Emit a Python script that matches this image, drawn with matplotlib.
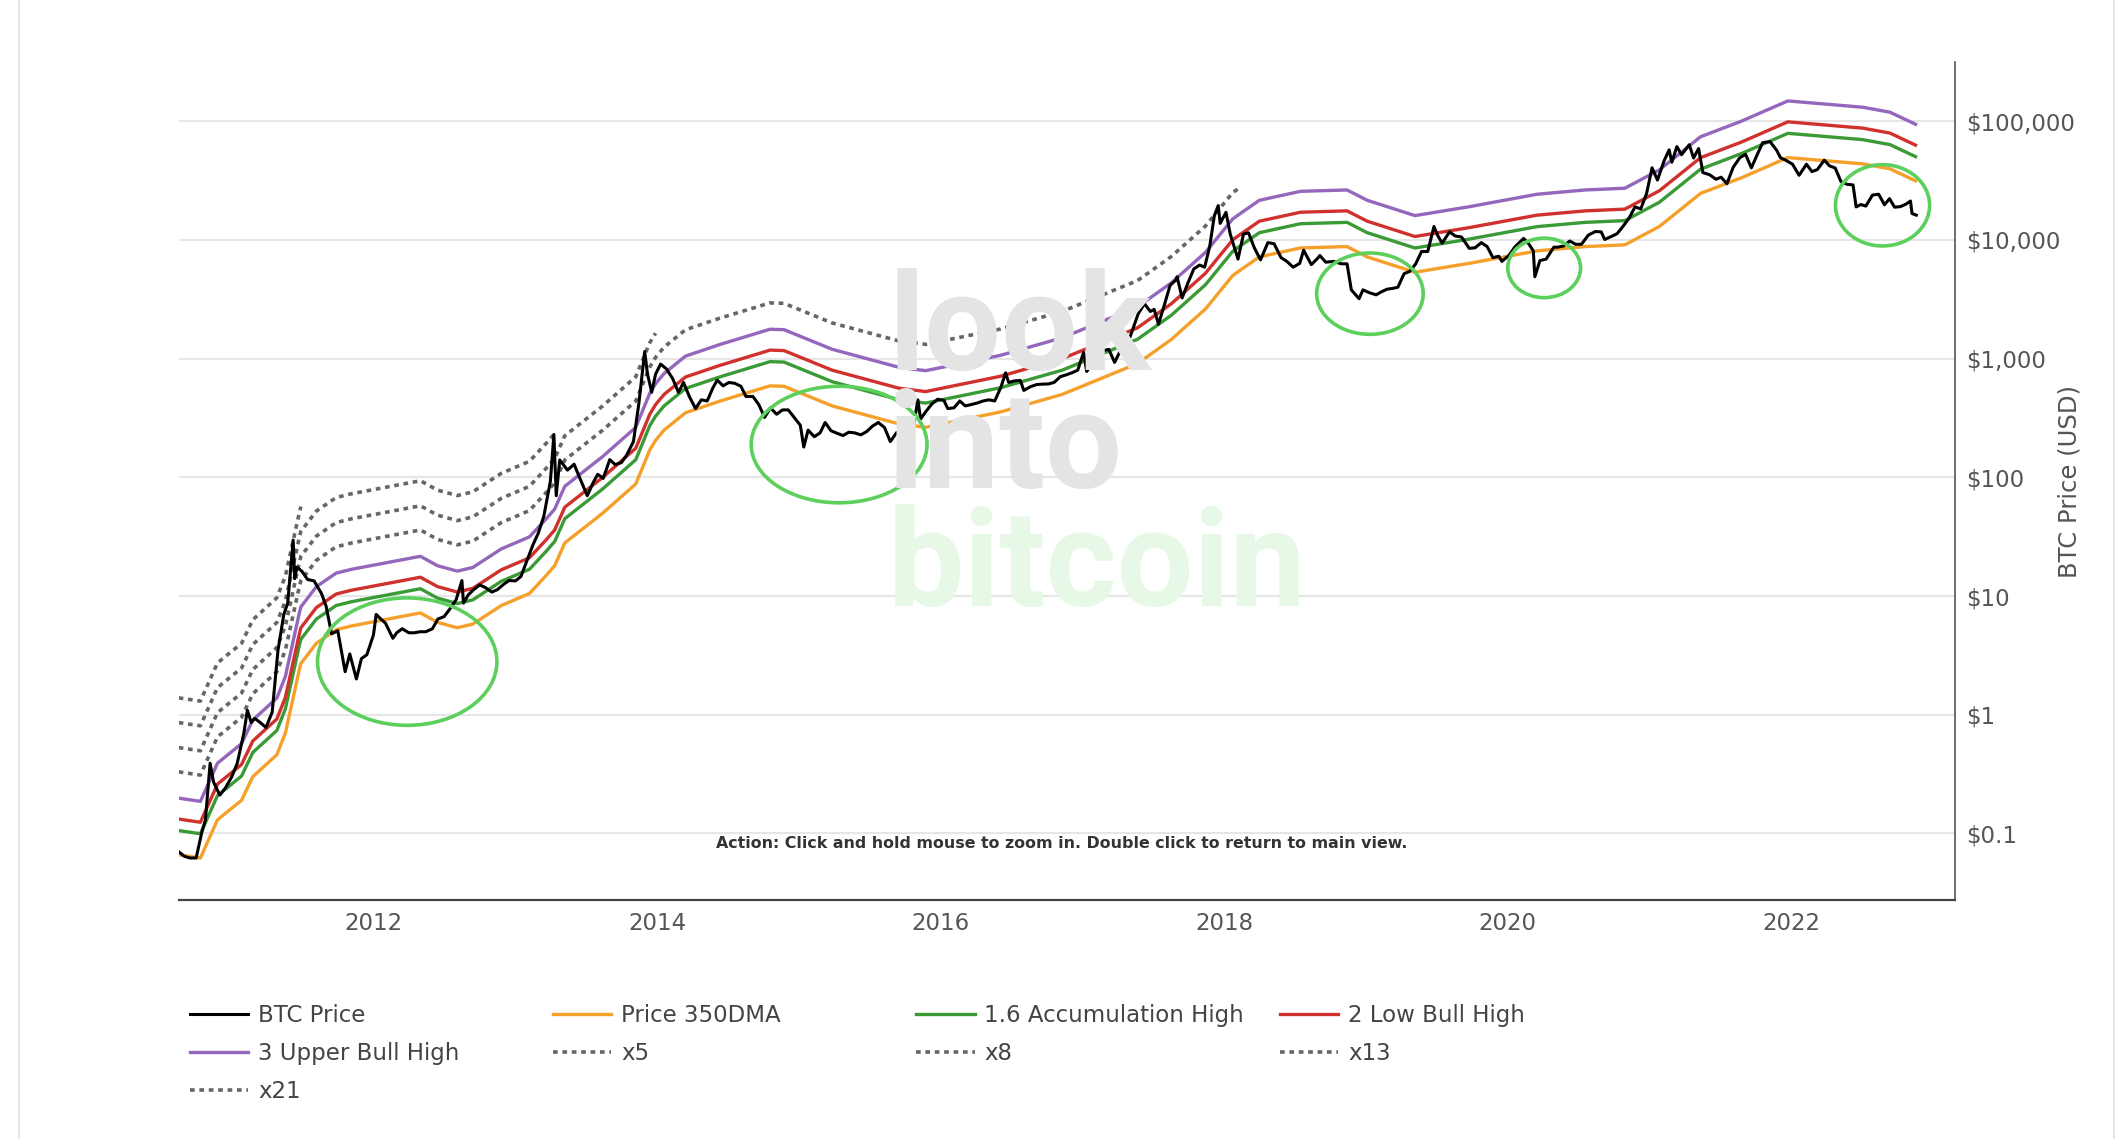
import matplotlib
matplotlib.use("Agg")
import matplotlib.pyplot as plt
import matplotlib.dates as mdates
from matplotlib.patches import Ellipse
from matplotlib.lines import Line2D
import pandas as pd

# BTC price (approx. readings, semi-monthly plus swing highs/lows)
btc_dates = [
    "2010-08-17", "2010-09-01", "2010-09-15", "2010-10-01", "2010-10-15", "2010-10-25", "2010-11-06", "2010-11-15",
    "2010-12-01", "2010-12-15", "2011-01-01", "2011-01-15", "2011-02-01", "2011-02-10", "2011-02-20", "2011-03-01",
    "2011-03-15", "2011-03-30", "2011-04-15", "2011-04-30", "2011-05-15", "2011-05-25", "2011-06-08", "2011-06-12",
    "2011-06-18", "2011-07-01", "2011-07-15", "2011-08-01", "2011-08-20", "2011-09-01", "2011-09-15", "2011-10-01",
    "2011-10-20", "2011-11-01", "2011-11-18", "2011-12-01", "2011-12-15", "2012-01-01", "2012-01-08", "2012-01-20",
    "2012-02-01", "2012-02-20", "2012-03-01", "2012-03-15", "2012-04-01", "2012-04-15", "2012-05-01", "2012-05-15",
    "2012-06-01", "2012-06-15", "2012-07-01", "2012-07-15", "2012-08-01", "2012-08-16", "2012-08-20", "2012-09-01",
    "2012-09-15", "2012-10-01", "2012-10-15", "2012-11-01", "2012-11-15", "2012-12-01", "2012-12-15", "2013-01-01",
    "2013-01-15", "2013-02-01", "2013-02-15", "2013-03-01", "2013-03-15", "2013-04-01", "2013-04-10", "2013-04-16",
    "2013-04-25", "2013-05-15", "2013-06-01", "2013-06-15", "2013-07-05", "2013-07-20", "2013-08-01", "2013-08-15",
    "2013-09-01", "2013-09-15", "2013-10-01", "2013-10-15", "2013-11-01", "2013-11-15", "2013-11-30", "2013-12-07",
    "2013-12-18", "2013-12-28", "2014-01-10", "2014-01-25", "2014-02-10", "2014-02-25", "2014-03-10", "2014-03-25",
    "2014-04-10", "2014-04-25", "2014-05-10", "2014-05-25", "2014-06-05", "2014-06-20", "2014-07-05", "2014-07-20",
    "2014-08-05", "2014-08-18", "2014-09-05", "2014-09-20", "2014-10-05", "2014-10-20", "2014-11-05", "2014-11-20",
    "2014-12-05", "2014-12-20", "2015-01-05", "2015-01-14", "2015-01-25", "2015-02-10", "2015-02-25", "2015-03-10",
    "2015-03-25", "2015-04-10", "2015-04-25", "2015-05-10", "2015-05-25", "2015-06-10", "2015-06-25", "2015-07-10",
    "2015-07-25", "2015-08-10", "2015-08-25", "2015-09-10", "2015-09-25", "2015-10-10", "2015-10-25", "2015-11-04",
    "2015-11-11", "2015-11-25", "2015-12-10", "2015-12-25", "2016-01-10", "2016-01-20", "2016-02-05", "2016-02-20",
    "2016-03-05", "2016-03-20", "2016-04-05", "2016-04-20", "2016-05-05", "2016-05-20", "2016-06-05", "2016-06-17",
    "2016-06-25", "2016-07-10", "2016-07-25", "2016-08-03", "2016-08-20", "2016-09-05", "2016-09-20", "2016-10-05",
    "2016-10-20", "2016-11-05", "2016-11-20", "2016-12-05", "2016-12-20", "2017-01-04", "2017-01-12", "2017-01-25",
    "2017-02-10", "2017-02-25", "2017-03-10", "2017-03-25", "2017-04-10", "2017-04-25", "2017-05-10", "2017-05-25",
    "2017-06-10", "2017-06-25", "2017-07-05", "2017-07-16", "2017-07-30", "2017-08-15", "2017-08-30", "2017-09-02",
    "2017-09-15", "2017-09-30", "2017-10-15", "2017-10-30", "2017-11-12", "2017-11-25", "2017-12-07", "2017-12-17",
    "2017-12-22", "2018-01-06", "2018-01-17", "2018-02-06", "2018-02-20", "2018-03-05", "2018-03-20", "2018-04-05",
    "2018-04-24", "2018-05-10", "2018-05-28", "2018-06-12", "2018-06-28", "2018-07-15", "2018-07-25", "2018-08-14",
    "2018-08-30", "2018-09-05", "2018-09-20", "2018-10-10", "2018-10-30", "2018-11-14", "2018-11-25", "2018-12-15",
    "2018-12-25", "2019-01-10", "2019-01-28", "2019-02-10", "2019-02-25", "2019-03-10", "2019-03-25", "2019-04-10",
    "2019-04-25", "2019-05-10", "2019-05-25", "2019-06-10", "2019-06-26", "2019-07-05", "2019-07-17", "2019-08-05",
    "2019-08-20", "2019-09-05", "2019-09-25", "2019-10-10", "2019-10-26", "2019-11-10", "2019-11-25", "2019-12-10",
    "2019-12-18", "2020-01-05", "2020-01-20", "2020-02-12", "2020-02-25", "2020-03-08", "2020-03-12", "2020-03-25",
    "2020-04-10", "2020-04-30", "2020-05-10", "2020-05-25", "2020-06-10", "2020-06-25", "2020-07-10", "2020-07-28",
    "2020-08-15", "2020-08-30", "2020-09-08", "2020-09-25", "2020-10-10", "2020-10-25", "2020-11-10", "2020-11-25",
    "2020-12-10", "2020-12-25", "2021-01-08", "2021-01-22", "2021-02-08", "2021-02-21", "2021-02-28", "2021-03-13",
    "2021-03-25", "2021-04-14", "2021-04-25", "2021-05-08", "2021-05-19", "2021-06-05", "2021-06-22", "2021-07-05",
    "2021-07-20", "2021-08-05", "2021-08-22", "2021-09-06", "2021-09-21", "2021-10-05", "2021-10-20", "2021-11-08",
    "2021-11-25", "2021-12-05", "2021-12-20", "2022-01-05", "2022-01-22", "2022-02-10", "2022-02-24", "2022-03-10",
    "2022-03-28", "2022-04-10", "2022-04-25", "2022-05-10", "2022-05-25", "2022-06-10", "2022-06-18", "2022-06-30",
    "2022-07-13", "2022-07-30", "2022-08-15", "2022-08-30", "2022-09-12", "2022-09-25", "2022-10-10", "2022-10-25",
    "2022-11-05", "2022-11-09", "2022-11-20",
]
btc_price = [
    0.07, 0.064, 0.062, 0.062, 0.10, 0.13, 0.39, 0.27,
    0.21, 0.24, 0.30, 0.39, 0.70, 1.09, 0.86, 0.93,
    0.86, 0.78, 1.05, 3.5, 7.0, 8.7, 29.6, 14,
    17.5, 16.1, 13.8, 13.4, 10.5, 8.2, 4.8, 5.1,
    2.3, 3.25, 2.0, 2.97, 3.2, 4.7, 7.0, 6.4,
    5.9, 4.4, 4.9, 5.3, 4.9, 4.9, 5.0, 5.0,
    5.3, 6.4, 6.7, 7.7, 9.3, 13.5, 8.7, 10.2,
    11.3, 12.4, 11.8, 10.8, 11.3, 12.5, 13.5, 13.4,
    14.6, 20.4, 27, 34, 47, 93, 230, 70,
    140, 115, 129, 100, 70, 90, 106, 98,
    141, 128, 133, 155, 200, 420, 1150, 750,
    520, 740, 900, 820, 680, 520, 630, 480,
    380, 450, 440, 570, 660, 590, 630, 620,
    585, 480, 480, 410, 320, 385, 340, 370,
    370, 320, 275, 180, 250, 220, 237, 290,
    247, 235, 225, 240, 237, 228, 243, 270,
    290, 263, 200, 238, 235, 245, 285, 450,
    310, 360, 415, 455, 445, 380, 385, 440,
    400, 410, 423, 440, 450, 440, 575, 760,
    630, 650, 655, 540, 580, 605, 610, 612,
    630, 705, 730, 760, 800, 1130, 780, 890,
    990, 1170, 1200, 930, 1190, 1270, 1740, 2400,
    2900, 2500, 2600, 1950, 2750, 4150, 4600, 4900,
    3250, 4350, 5700, 6150, 5900, 8800, 16000, 19500,
    13800, 17100, 11200, 6900, 11200, 11500, 8600, 6800,
    9500, 9300, 7100, 6600, 5900, 6350, 8200, 6200,
    7000, 7400, 6500, 6600, 6300, 6300, 3800, 3200,
    3800, 3600, 3450, 3650, 3850, 3900, 4000, 5200,
    5450, 6300, 8000, 8000, 13000, 11000, 9400, 11700,
    10800, 10600, 8500, 8600, 9500, 8800, 7100, 7300,
    6600, 7400, 8700, 10300, 9300, 8100, 4900, 6700,
    6900, 8700, 8700, 8900, 9800, 9200, 9200, 11000,
    11800, 11700, 10100, 10700, 11300, 13000, 15300, 19000,
    18300, 24700, 40600, 32000, 46400, 57500, 45200, 61200,
    52300, 63500, 49000, 58900, 37000, 35500, 32500, 33800,
    29800, 40900, 49300, 52700, 40500, 51500, 66000, 67500,
    57100, 49400, 46700, 43500, 35100, 43500, 37700, 39200,
    47100, 42200, 40400, 31000, 29500, 29100, 19000, 19900,
    19300, 23900, 24300, 19800, 22300, 18900, 19100, 20100,
    21300, 16700, 16200,
]

# 350 day moving average
dma_dates = [
    "2010-08-17", "2010-10-12", "2010-11-25", "2011-01-26", "2011-02-24", "2011-04-27", "2011-05-19", "2011-06-24",
    "2011-06-28", "2011-08-07", "2011-09-27", "2011-11-06", "2012-05-01", "2012-06-14", "2012-08-04", "2012-09-13",
    "2012-11-25", "2013-02-06", "2013-03-22", "2013-04-12", "2013-05-08", "2013-08-14", "2013-11-07", "2013-12-13",
    "2013-12-28", "2014-01-19", "2014-03-15", "2014-06-10", "2014-10-19", "2014-11-24", "2015-03-28", "2015-09-16",
    "2015-11-24", "2016-06-03", "2016-11-10", "2017-05-23", "2017-08-18", "2017-11-14", "2018-01-23", "2018-02-06",
    "2018-04-02", "2018-07-17", "2018-11-14", "2019-01-05", "2019-05-08", "2019-09-24", "2020-03-18", "2020-07-20",
    "2020-10-30", "2021-01-27", "2021-05-13", "2021-08-26", "2021-12-24", "2022-07-05", "2022-09-13", "2022-11-18",
]
dma_price = [
    0.066, 0.062, 0.13, 0.19, 0.30, 0.46, 0.70, 2.4,
    2.7, 4.0, 5.2, 5.6, 7.2, 6.0, 5.4, 5.8,
    8.3, 10.5, 15, 18, 28, 50, 88, 170,
    205, 250, 350, 437, 590, 585, 400, 282,
    264, 355, 500, 910, 1450, 2620, 5000, 5400,
    7200, 8570, 8800, 7200, 5350, 6350, 8100, 8800,
    9100, 13000, 24700, 33400, 49500, 43800, 39800, 31500,
]

# golden ratio multiplier bands
band_mult = [1.6, 2, 3]
band_names = ["1.6 Accumulation High", "2 Low Bull High", "3 Upper Bull High"]
band_colors = ["#3a9a35", "#d0312d", "#9467bd"]

# fibonacci multiples, each drawn only until the date it was last reached
fib_mult = [5, 8, 13, 21]
fib_end = ["2018-02-06", "2013-12-28", "2013-04-12", "2011-06-28"]

# circled zones: centre (date, price), size as axes fraction
circle_dates = ["2012-03-28", "2015-04-15", "2019-01-12", "2020-04-05", "2022-08-25"]
circle_price = [2.8, 189, 3530, 5820, 19600]
circle_w = [0.101, 0.099, 0.060, 0.041, 0.053]
circle_h = [0.152, 0.139, 0.097, 0.071, 0.097]

btc_x = pd.to_datetime(btc_dates)
dma_x = pd.to_datetime(dma_dates)
dma = pd.Series(dma_price, index=dma_x)

fig = plt.figure(figsize=(21.27, 11.39), dpi=100)
ax = fig.add_axes([0.084, 0.210, 0.835, 0.736])

# watermark
wm = dict(family="Roboto", weight="bold", fontsize=98, va="baseline", ha="left", zorder=0)
fig.text(0.4175, 0.675, "look", color="#e4e4e4", **wm)
fig.text(0.4175, 0.5716, "into", color="#e4e4e4", **wm)
fig.text(0.4175, 0.468, "bitcoin", color="#e7f8e7", **wm)
ax.patch.set_alpha(0)

h_price, = ax.plot(btc_x, btc_price, color="black", lw=2.2, zorder=6, label="BTC Price")
h_dma, = ax.plot(dma.index, dma.values, color="#f5a02a", lw=2.4, zorder=5, label="Price 350DMA")

band_handles = []
for m, name, c in zip(band_mult, band_names, band_colors):
    h, = ax.plot(dma.index, dma.values * m, color=c, lw=2.4, zorder=4, label=name)
    band_handles.append(h)

fib_handles = []
for m, end in zip(fib_mult, fib_end):
    part = dma[dma.index <= pd.Timestamp(end)]
    h, = ax.plot(part.index, part.values * m, color="#666666", lw=2.6,
                 linestyle=(0, (1.3, 1.3)), zorder=3, label="x%d" % m)
    fib_handles.append(h)

ax.set_yscale("log")
ax.set_ylim(10 ** -1.56, 10 ** 5.504)
ax.set_xlim(pd.Timestamp("2010-08-17"), pd.Timestamp("2023-02-27"))

yticks = [0.1, 1, 10, 100, 1000, 10000, 100000]
ytick_labels = ["$0.1", "$1", "$10", "$100", "$1,000", "$10,000", "$100,000"]
ax.yaxis.tick_right()
ax.yaxis.set_label_position("right")
ax.set_yticks(yticks)
ax.set_yticklabels(ytick_labels)
ax.yaxis.set_minor_locator(matplotlib.ticker.NullLocator())
ax.xaxis.set_major_locator(mdates.YearLocator(2))
ax.xaxis.set_major_formatter(mdates.DateFormatter("%Y"))
ax.tick_params(axis="both", length=0, labelsize=16.5, labelcolor="#555555")
ax.tick_params(axis="y", pad=8)
ax.tick_params(axis="x", pad=9)
ax.set_ylabel("BTC Price (USD)", fontsize=17.5, color="#555555")
ax.yaxis.set_label_coords(1.0648, 0.499)
ax.yaxis.label.set_va("center")

ax.yaxis.grid(True, color="#e6e6e6", lw=1.5, zorder=1)
ax.xaxis.grid(False)
ax.set_axisbelow(True)
for side in ["left", "top"]:
    ax.spines[side].set_visible(False)
ax.spines["bottom"].set_color("#444444")
ax.spines["bottom"].set_linewidth(1.6)
ax.spines["right"].set_color("#555555")
ax.spines["right"].set_linewidth(1.2)

# circled zones
to_axes = ax.transData + ax.transAxes.inverted()
for d, p, w, hgt in zip(circle_dates, circle_price, circle_w, circle_h):
    cx, cy = to_axes.transform((mdates.date2num(pd.Timestamp(d)), p))
    ax.add_patch(Ellipse((cx, cy), w, hgt, transform=ax.transAxes, fill=False,
                         edgecolor="#5ccf5c", lw=2.6, zorder=7))

ax.text(0.497, 0.067, "Action: Click and hold mouse to zoom in. Double click to return to main view.",
        transform=ax.transAxes, ha="center", va="center", fontsize=11.4,
        fontweight="bold", color="#333333", zorder=8)

# legend laid out in four columns
columns = [
    [h_price, band_handles[2], fib_handles[3]],
    [h_dma, fib_handles[0]],
    [band_handles[0], fib_handles[1]],
    [band_handles[1], fib_handles[2]],
]
col_x = [0.0893, 0.260, 0.4307, 0.6018]
for hs, x in zip(columns, col_x):
    fig.legend(handles=hs, loc="upper left", bbox_to_anchor=(x, 0.1182),
               frameon=False, fontsize=16.5, handlelength=2.55, handletextpad=0.42,
               labelspacing=0.65, borderpad=0, borderaxespad=0, labelcolor="#444444")

# page borders
fig.add_artist(Line2D([19 / 2127, 19 / 2127], [0, 1], color="#e6e6e6", lw=1.5))
fig.add_artist(Line2D([2114 / 2127, 2114 / 2127], [0, 1], color="#e6e6e6", lw=1.5))

fig.savefig("out.png", dpi=100)
